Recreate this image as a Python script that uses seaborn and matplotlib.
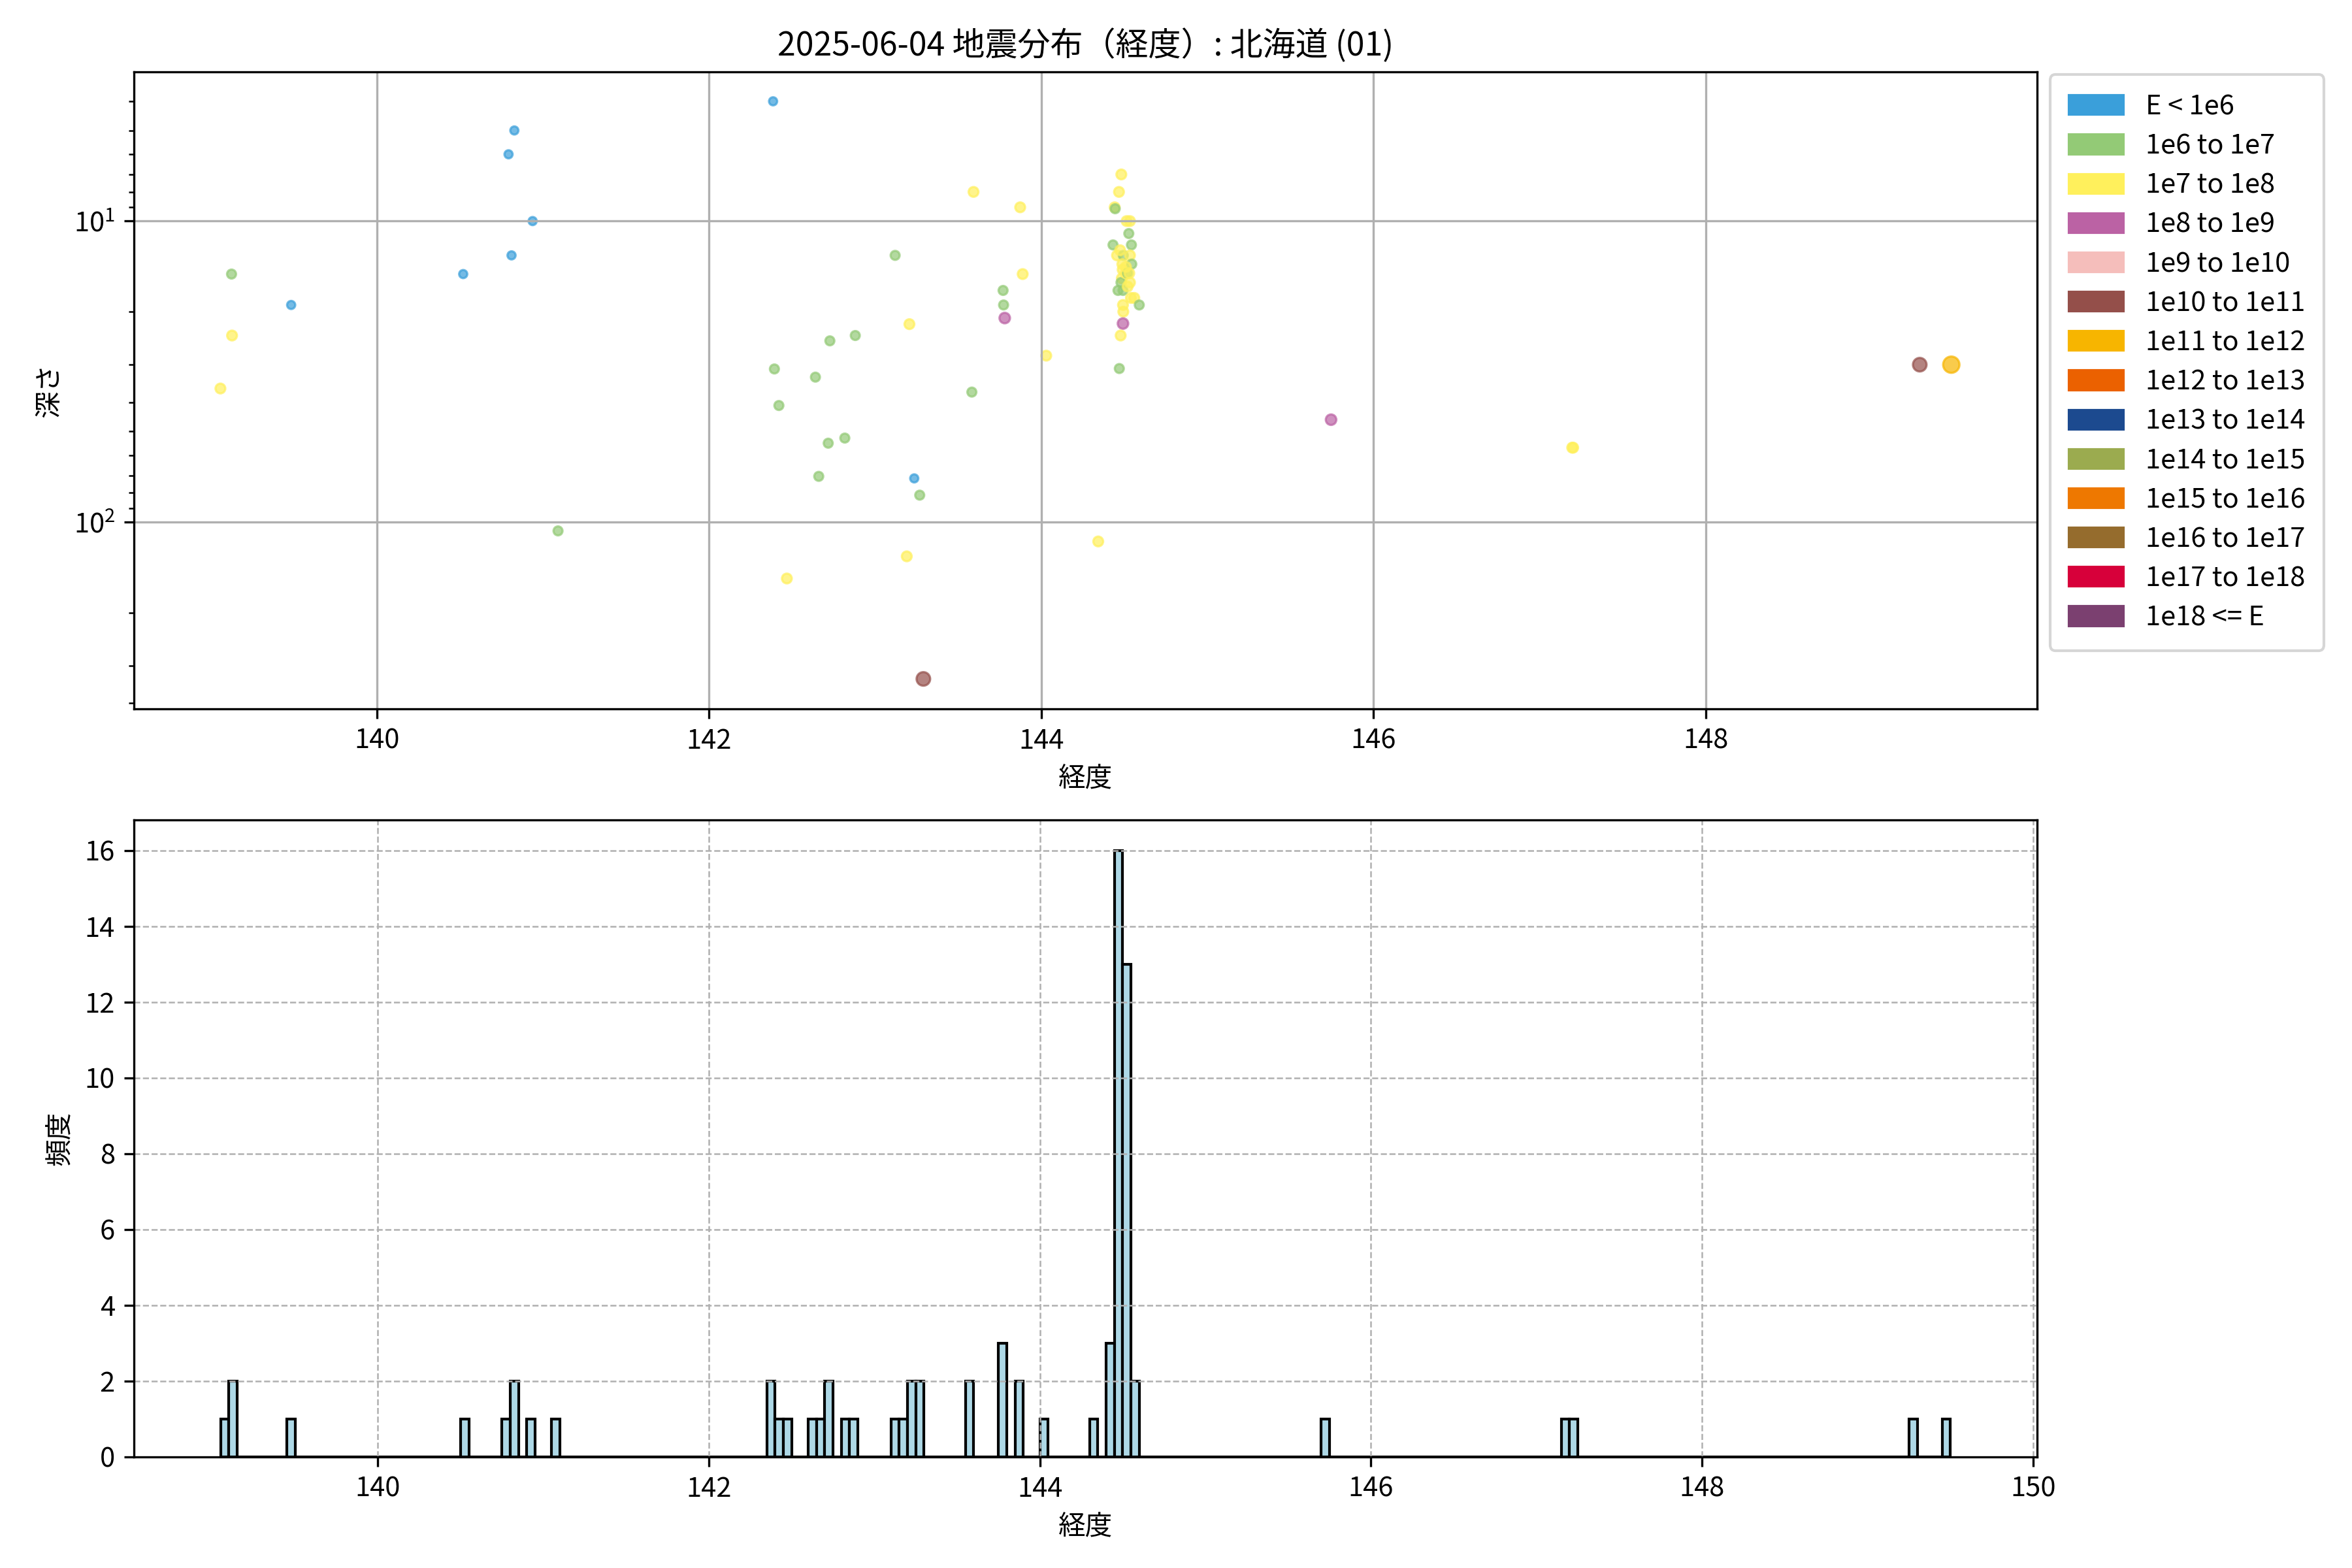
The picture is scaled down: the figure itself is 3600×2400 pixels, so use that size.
import numpy as np
import pandas as pd
import matplotlib
matplotlib.use("Agg")
import matplotlib.pyplot as plt
from matplotlib.patches import Patch
import seaborn as sns

plt.rcParams['font.family'] = ['Noto Sans CJK JP', 'DejaVu Sans']
plt.rcParams['axes.unicode_minus'] = False

# Energy classes (legend order) and their colours
classes = ['E < 1e6', '1e6 to 1e7', '1e7 to 1e8', '1e8 to 1e9', '1e9 to 1e10',
           '1e10 to 1e11', '1e11 to 1e12', '1e12 to 1e13', '1e13 to 1e14',
           '1e14 to 1e15', '1e15 to 1e16', '1e16 to 1e17', '1e17 to 1e18', '1e18 <= E']
class_colors = ['#3a9fda', '#93ca76', '#fff05c', '#bb62a4', '#f5bebb',
                '#944f4a', '#f7b500', '#eb6100', '#1c4a8f',
                '#9bab4f', '#ee7800', '#956c2d', '#d7003a', '#7b4070']
class_sizes = [9, 11, 13, 15, 18, 25, 36, 40, 44, 48, 52, 56, 60, 64]

# Events: longitude, depth (km), energy class
lon = [
    # E < 1e6
    139.483, 140.519, 140.792, 140.827, 140.810, 140.937, 142.385, 143.235,
    # 1e6 to 1e7
    139.124, 141.090, 142.393, 142.420, 142.640, 142.660, 142.717, 142.727,
    142.817, 142.880, 143.120, 143.268, 143.582, 143.770, 143.773,
    # 1e7 to 1e8
    139.057, 139.127, 142.468, 143.190, 143.206, 143.592, 143.873, 143.888,
    144.030, 144.343, 147.197, 147.203,
    # 1e8 to 1e9, 1e10 to 1e11, 1e11 to 1e12
    143.780, 145.745, 143.290, 149.290, 149.480,
    # cluster near 144.5
    144.432, 144.442, 144.445,
    144.482, 144.468, 144.456, 144.494, 144.488, 144.462, 144.492, 144.492,
    144.494, 144.492, 144.478, 144.470, 144.490, 144.485, 144.475, 144.480,
    144.514, 144.534, 144.527, 144.543, 144.534, 144.545, 144.508, 144.520,
    144.530, 144.534, 144.540, 144.510, 144.520,
    144.560, 144.590,
]
depth = [
    19.0, 15.0, 6.0, 5.0, 13.0, 10.0, 4.0, 71.6,
    15.0, 107.0, 31.0, 41.0, 33.0, 70.5, 54.7, 25.0,
    52.6, 24.0, 13.0, 81.4, 37.0, 17.0, 19.0,
    36.0, 24.0, 154.0, 130.0, 22.0, 8.0, 9.0, 15.0,
    28.0, 116.0, 56.6, 56.6,
    21.0, 45.7, 332.0, 30.0, 30.0,
    12.0, 9.0, 9.1,
    7.0, 8.0, 13.0, 13.0, 13.9, 17.0, 17.0, 19.0,
    20.0, 21.9, 24.0, 30.9, 14.5, 15.5, 12.5, 16.0,
    10.0, 10.0, 11.0, 12.0, 13.0, 13.9, 14.9, 14.9,
    14.9, 16.0, 18.0, 14.2, 16.5,
    18.0, 19.0,
]
energy = (
    ['E < 1e6'] * 8
    + ['1e6 to 1e7'] * 15
    + ['1e7 to 1e8'] * 12
    + ['1e8 to 1e9', '1e8 to 1e9', '1e10 to 1e11', '1e10 to 1e11', '1e11 to 1e12']
    + ['1e6 to 1e7', '1e7 to 1e8', '1e6 to 1e7']
    + ['1e7 to 1e8', '1e7 to 1e8', '1e7 to 1e8', '1e6 to 1e7', '1e7 to 1e8', '1e6 to 1e7',
       '1e6 to 1e7', '1e7 to 1e8', '1e7 to 1e8', '1e8 to 1e9', '1e7 to 1e8', '1e6 to 1e7',
       '1e7 to 1e8', '1e7 to 1e8', '1e7 to 1e8', '1e6 to 1e7']
    + ['1e7 to 1e8', '1e7 to 1e8', '1e6 to 1e7', '1e6 to 1e7', '1e7 to 1e8', '1e6 to 1e7',
       '1e7 to 1e8', '1e6 to 1e7', '1e7 to 1e8', '1e7 to 1e8', '1e7 to 1e8', '1e7 to 1e8',
       '1e7 to 1e8']
    + ['1e7 to 1e8', '1e6 to 1e7']
)

df = pd.DataFrame({'経度': lon, '深さ': depth, 'class': energy})
palette = dict(zip(classes, class_colors))
sizes = dict(zip(classes, class_sizes))

fig, (ax1, ax2) = plt.subplots(2, 1, figsize=(12, 8))
fig.subplots_adjust(left=0.057, right=0.866, top=0.954, bottom=0.071, hspace=0.175)

# Scatter: longitude vs depth
sns.scatterplot(data=df, x='経度', y='深さ', hue='class', palette=palette,
                size='class', sizes=sizes, alpha=0.7, edgecolor='face',
                linewidth=0.8, legend=False, ax=ax1)
ax1.set_yscale('log')
ax1.set_ylim(417, 3.2)
ax1.set_xlim(138.537, 149.995)
ax1.set_title("2025-06-04 地震分布（経度）: 北海道 (01)", fontsize=12)
ax1.set_xlabel("経度")
ax1.set_ylabel("深さ")
ax1.grid(True)
handles = [Patch(color=c, label=l) for l, c in zip(classes, class_colors)]
ax1.legend(handles=handles, loc='upper left', bbox_to_anchor=(1.007, 0.996),
           borderaxespad=0, borderpad=0.7, labelspacing=0.46)

# Histogram of longitudes
bins = np.arange(139.05, 149.55, 0.05)
sns.histplot(x=df['経度'], bins=bins, color='lightblue', edgecolor='black',
             linewidth=1, alpha=1, ax=ax2)
ax2.set_xlabel("経度")
ax2.set_ylabel("頻度")
ax2.grid(True, linestyle='--', linewidth=0.6)

plt.savefig("out.png", dpi=300)
